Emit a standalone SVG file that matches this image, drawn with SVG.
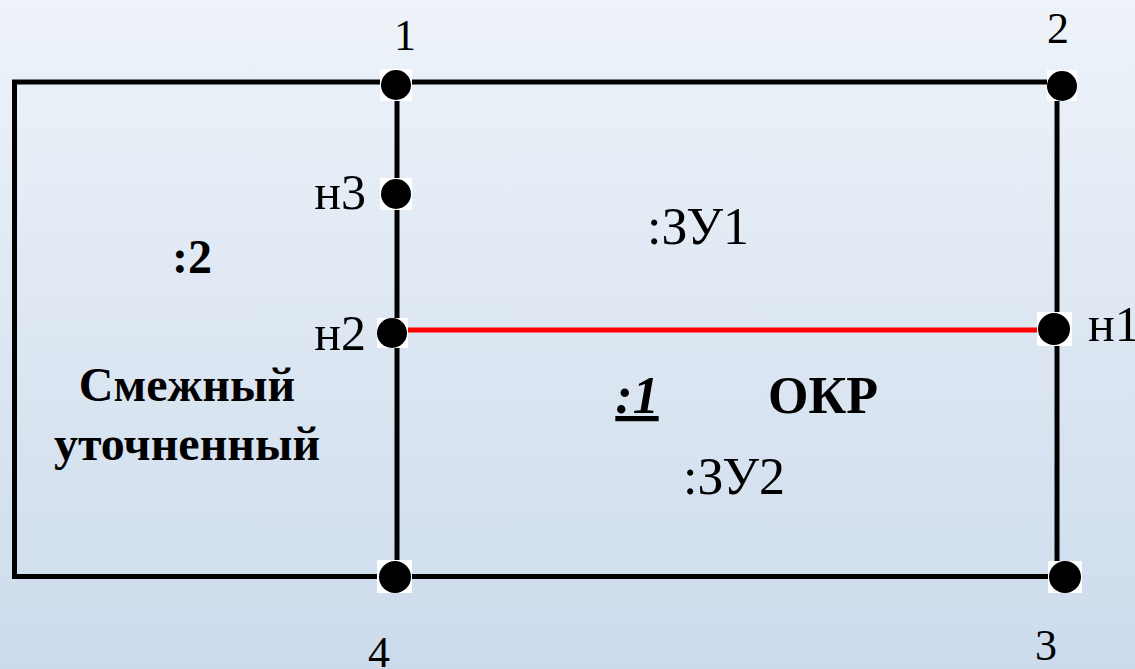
<svg xmlns="http://www.w3.org/2000/svg" width="1135" height="669" viewBox="0 0 1135 669">
<defs>
<linearGradient id="bg" x1="0" y1="0" x2="0" y2="1">
<stop offset="0" stop-color="#eef3f9"/>
<stop offset="1" stop-color="#ccdbec"/>
</linearGradient>
</defs>
<style>
.ln{stroke:#000;stroke-width:5;fill:none}
.red{stroke:#ff0000;stroke-width:5}
.sq{fill:#fff}
.dot{fill:#000}
.t{font-family:"Liberation Serif","Times New Roman",serif;fill:#000}
.d{font-size:44px}
.n{font-size:50px}
.z{font-size:52px}
.b{font-weight:bold;font-size:48px}
.bb{font-weight:bold;font-size:52px}
</style>
<rect width="1135" height="669" fill="url(#bg)"/>
<g id="connectors">
<polyline class="ln" points="397,82 14.5,82 14.5,576.5 397,576.5"/>
<rect class="ln" x="397" y="82" width="660" height="494.5"/>
<line class="red" x1="397" y1="330" x2="1054" y2="330"/>
</g>
<g id="p1"><rect class="sq" x="380" y="69" width="32" height="32"/><circle class="dot" cx="396" cy="85" r="15"/><text class="t d" x="405" y="50" text-anchor="middle">1</text></g>
<g id="p2"><rect class="sq" x="1047" y="70" width="30" height="31"/><circle class="dot" cx="1062" cy="86" r="15"/><text class="t d" x="1058" y="43" text-anchor="middle">2</text></g>
<g id="p3"><rect class="sq" x="1048" y="561" width="34" height="32"/><circle class="dot" cx="1065" cy="577" r="16"/><text class="t d" x="1046" y="660" text-anchor="middle">3</text></g>
<g id="p4"><rect class="sq" x="377" y="560" width="35" height="33"/><circle class="dot" cx="395" cy="577" r="16"/><text class="t d" x="379" y="667" text-anchor="middle">4</text></g>
<g id="n1"><rect class="sq" x="1037" y="312" width="35" height="34"/><circle class="dot" cx="1054" cy="329" r="16"/><text class="t n" x="1088" y="341">н1</text></g>
<g id="n2"><rect class="sq" x="377" y="318" width="31" height="30"/><circle class="dot" cx="392" cy="333" r="15"/><text class="t n" x="366" y="350" text-anchor="end">н2</text></g>
<g id="n3"><rect class="sq" x="380" y="178" width="32" height="32"/><circle class="dot" cx="396" cy="194" r="15"/><text class="t n" x="366" y="209" text-anchor="end">н3</text></g>
<g id="zu1"><text class="t z" x="698" y="244" text-anchor="middle">:ЗУ1</text></g>
<g id="zu2"><text class="t z" x="734" y="494" text-anchor="middle">:ЗУ2</text></g>
<g id="adj">
<text class="t b" x="192" y="273" text-anchor="middle">:2</text>
<text class="t b" x="187" y="401" text-anchor="middle">Смежный</text>
<text class="t b" x="187" y="460" text-anchor="middle">уточненный</text>
</g>
<g id="okr">
<text class="t bb" x="637" y="413" text-anchor="middle" font-style="italic" text-decoration="underline">:1</text>
<text class="t bb" x="823" y="413" text-anchor="middle">ОКР</text>
</g>
</svg>
